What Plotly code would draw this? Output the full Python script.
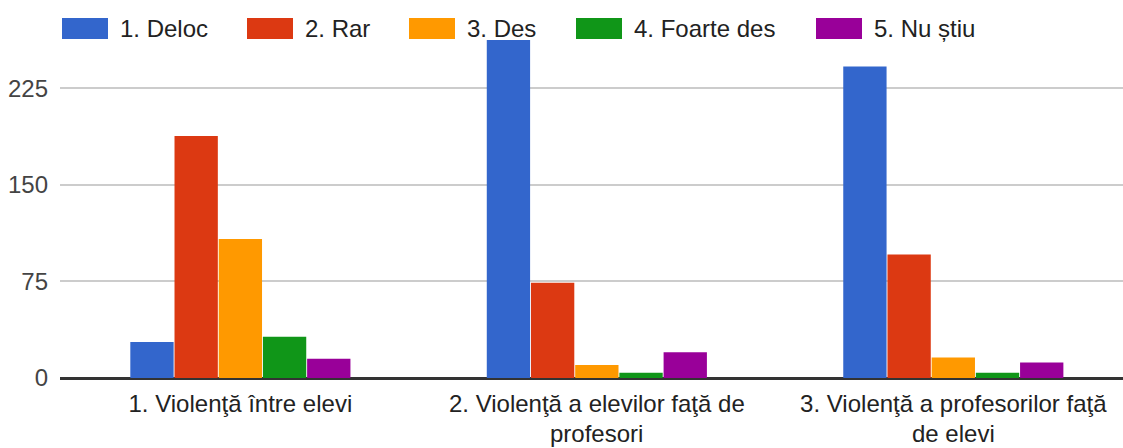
import plotly.graph_objects as go

# ---- data ----
categories_line1 = [
    "1. Violenţă între elevi",
    "2. Violenţă a elevilor faţă de",
    "3. Violenţă a profesorilor faţă",
]
categories_line2 = ["", "profesori", "de elevi"]
series_names = ["1. Deloc", "2. Rar", "3. Des", "4. Foarte des", "5. Nu știu"]
deloc = [28, 270, 242]
rar = [188, 74, 96]
des = [108, 10, 16]
foarte_des = [32, 4, 4]
nu_stiu = [15, 20, 12]
y_ticks = [0, 75, 150, 225]

series_values = [deloc, rar, des, foarte_des, nu_stiu]
colors = ["#3366cc", "#dc3912", "#ff9900", "#109618", "#990099"]

# ---- layout constants (pixels) ----
W, H = 1123, 448
ML, MR, MT, MB = 60, 0, 40, 70
FONT = "Liberation Sans, Arial, sans-serif"
FS = 24


def px_x(px):
    return (px - ML) / (W - ML - MR)


def px_y(py):
    return (H - MB - py) / (H - MT - MB)


xs = list(range(len(categories_line1)))

fig = go.Figure()
for name, vals, col in zip(series_names, series_values, colors):
    fig.add_trace(go.Bar(
        x=xs, y=vals, name=name,
        marker=dict(color=col, line=dict(width=0)),
        showlegend=False,
    ))

# custom legend (large swatches like the original)
legend_left = [62, 247, 409, 576, 816]
sw_w, sw_h, sw_top = 46, 21, 18
shapes = []
annotations = []
for lx, name, col in zip(legend_left, series_names, colors):
    shapes.append(dict(
        type="rect", xref="paper", yref="paper",
        x0=px_x(lx), x1=px_x(lx + sw_w),
        y0=px_y(sw_top + sw_h), y1=px_y(sw_top),
        fillcolor=col, line=dict(width=0),
    ))
    annotations.append(dict(
        xref="paper", yref="paper", x=px_x(lx + sw_w + 10), y=px_y(sw_top + sw_h / 2),
        xanchor="left", yanchor="middle", text=name, showarrow=False,
        font=dict(family=FONT, size=FS, color="#222222"),
    ))

# second lines of the category labels (tighter line spacing than plotly's <br>)
for xi, txt in zip(xs, categories_line2):
    if txt:
        annotations.append(dict(
            xref="x", yref="paper", x=xi, y=px_y(433),
            xanchor="center", yanchor="middle", text=txt, showarrow=False,
            font=dict(family=FONT, size=FS, color="#222222"),
        ))

fig.update_layout(
    width=W, height=H,
    margin=dict(l=ML, r=MR, t=MT, b=MB, pad=0, autoexpand=False),
    paper_bgcolor="white", plot_bgcolor="white",
    barmode="group", bargap=0.38, bargroupgap=0.02,
    shapes=shapes, annotations=annotations,
    font=dict(family=FONT, size=FS, color="#222222"),
    hovermode=False,
)
fig.update_xaxes(
    tickmode="array", tickvals=xs, ticktext=categories_line1,
    range=[-0.506, 2.476], showgrid=False, showline=False, zeroline=False,
    ticks="", ticklabelstandoff=9, automargin=False,
    tickfont=dict(family=FONT, size=FS, color="#222222"),
    fixedrange=True,
)
fig.update_yaxes(
    range=[0, 262.5], tickmode="array", tickvals=y_ticks,
    showgrid=True, gridcolor="#cccccc", gridwidth=2,
    zeroline=True, zerolinecolor="#333333", zerolinewidth=3,
    showline=False, ticks="", ticklabelstandoff=11, automargin=False,
    tickfont=dict(family=FONT, size=FS, color="#444444"),
    fixedrange=True,
)

fig.write_html(
    "out.html",
    config={"displayModeBar": False, "staticPlot": False},
    post_script="document.body.style.margin='0px';",
)
